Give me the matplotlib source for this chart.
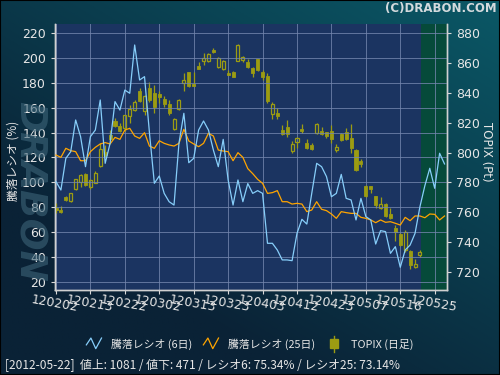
import numpy as np
import matplotlib
matplotlib.use('Agg')
import matplotlib.pyplot as plt
from matplotlib.lines import Line2D
from matplotlib.patches import Rectangle
from matplotlib.legend_handler import HandlerBase
from matplotlib.colors import to_rgb

# TOPIX daily candles, 2012-02-02 .. 2012-05-22
topix_open = [762.9, 761.4, 769.9, 767.6, 775.2, 780.4, 785.5, 777.0, 779.7, 790.9,
              800.5, 811.5, 821.1, 817.8, 816.2, 824.7, 828.5, 841.3, 828.1, 843.0,
              839.7, 839.2, 835.9, 832.5, 815.5, 829.0, 846.4, 853.8, 845.9, 858.0,
              861.6, 861.4, 868.8, 857.6, 855.8, 853.1, 854.2, 861.6, 862.1, 860.9,
              856.5, 862.5, 854.2, 851.3, 825.8, 826.7, 815.1, 817.3, 801.2, 807.2,
              815.7, 806.1, 805.0, 812.8, 814.4, 813.5, 814.4, 802.0, 812.4, 813.9,
              809.9, 801.6, 794.5, 777.7, 777.5, 770.8, 762.5, 765.4, 758.7, 749.1,
              745.3, 734.5, 734.1, 722.9, 731.0]
topix_close = [761.4, 760.3, 768.1, 772.6, 782.0, 784.9, 777.9, 781.5, 786.0, 802.3,
               798.3, 808.8, 817.8, 814.6, 825.1, 828.9, 834.1, 834.5, 837.9, 835.2,
               830.7, 837.0, 832.5, 826.7, 822.5, 835.6, 848.6, 844.8, 844.8, 856.2,
               863.2, 865.9, 867.2, 863.6, 861.6, 852.0, 850.9, 872.1, 864.3, 857.1,
               853.4, 855.4, 850.4, 834.8, 832.5, 824.5, 812.4, 812.4, 805.7, 809.5,
               814.4, 803.2, 802.3, 818.9, 812.4, 811.0, 808.8, 803.9, 808.4, 809.0,
               803.2, 788.2, 792.0, 770.8, 775.7, 764.7, 765.4, 757.4, 755.8, 746.8,
               737.9, 746.8, 724.5, 724.9, 733.0]
topix_high = [765.9, 764.3, 770.8, 773.0, 782.5, 785.5, 786.0, 782.5, 787.6, 806.1,
              805.0, 815.0, 822.9, 820.0, 825.5, 831.9, 835.2, 843.0, 838.6, 847.5,
              845.3, 841.2, 837.9, 835.2, 823.3, 836.0, 853.6, 854.2, 854.2, 861.0,
              866.5, 866.5, 869.9, 864.3, 862.0, 855.3, 854.5, 872.6, 864.7, 862.5,
              857.3, 863.0, 855.3, 853.1, 834.0, 829.6, 818.4, 821.8, 807.9, 810.6,
              819.1, 808.8, 806.6, 819.6, 816.9, 813.8, 818.4, 805.7, 812.8, 816.2,
              819.1, 802.1, 795.4, 778.2, 777.7, 771.0, 769.9, 765.9, 762.5, 751.3,
              745.7, 748.0, 734.5, 728.7, 734.5]
topix_low = [759.6, 759.1, 767.4, 767.0, 774.8, 777.0, 777.5, 775.8, 779.3, 790.5,
             797.0, 808.3, 816.9, 814.0, 814.6, 819.6, 828.0, 834.0, 825.1, 834.0,
             826.7, 833.0, 830.3, 825.1, 815.0, 828.5, 841.5, 844.1, 844.6, 856.0,
             858.7, 861.0, 866.5, 857.0, 855.3, 851.8, 850.4, 861.4, 861.0, 856.5,
             850.9, 854.9, 848.6, 833.0, 822.5, 822.5, 812.0, 810.6, 799.9, 803.2,
             813.3, 802.5, 801.6, 812.4, 811.7, 809.5, 806.6, 800.5, 807.9, 808.4,
             799.9, 787.7, 790.0, 770.3, 773.0, 762.9, 761.8, 756.9, 755.1, 740.8,
             737.2, 733.4, 721.6, 722.2, 730.1]

# advance/decline ratio (%)
ratio6 = [100.5, 93.8, 119.3, 124.7, 150.2, 136.8, 112.6, 136.8, 142.1, 166.3,
          115.3, 131.4, 165.0, 158.2, 174.3, 171.7, 210.6, 182.4, 185.1, 140.0,
          99.2, 105.1, 91.1, 84.4, 81.7, 131.4, 155.6, 115.8, 119.3, 142.1,
          149.4, 142.1, 126.0, 112.6, 134.6, 101.9, 81.7, 101.9, 84.4, 99.0,
          91.1, 93.3, 91.1, 50.9, 50.9, 45.5, 37.5, 37.5, 36.9, 58.9,
          70.2, 66.4, 91.1, 115.3, 112.6, 104.6, 88.4, 91.1, 106.4, 87.1,
          85.8, 69.7, 87.1, 72.4, 69.7, 50.3, 61.1, 60.3, 42.8, 48.2,
          31.6, 45.5, 49.5, 58.9, 80.4, 97.3, 111.3, 95.2, 123.4, 114.8]
ratio25 = [122.0, 120.1, 127.4, 125.5, 124.7, 117.4, 117.4, 124.7, 128.2, 130.9,
           132.0, 130.9, 136.2, 134.6, 142.1, 143.5, 137.3, 135.4, 140.0, 129.2,
           127.4, 133.5, 131.4, 130.1, 129.2, 131.4, 142.7, 133.3, 130.9, 128.7,
           131.4, 139.5, 137.3, 126.0, 125.2, 124.7, 117.4, 123.9, 120.1, 111.0,
           107.0, 102.4, 99.2, 91.1, 91.7, 93.3, 84.4, 84.4, 82.5, 83.1,
           82.5, 76.4, 77.7, 84.4, 78.3, 77.2, 74.5, 71.0, 76.4, 75.6,
           75.0, 75.0, 71.8, 71.0, 69.7, 67.5, 69.7, 67.8, 68.3, 67.0,
           65.6, 71.8, 69.1, 72.9, 72.9, 71.5, 74.5, 74.2, 69.7, 72.9]

tick_labels = ['120202', '120213', '120222', '120302', '120313', '120323',
               '120403', '120412', '120423', '120507', '120516', '120525']
tick_step = 7
latest_start = 74.2

date_str = '2012-05-22'
n_up, n_down = 1081, 471
last_r6, last_r25 = 75.34, 73.14

OLIVE = '#9c9c12'
BLUE = '#87cefa'
ORANGE = '#ffa500'
PLOT_BG = '#1b3461'
GREEN = '#064a3a'
TXT = '#e6e6e6'
JP = ['Noto Sans CJK JP', 'DejaVu Sans']

fig = plt.figure(figsize=(5, 3.75), dpi=100)

# background gradient
bg = fig.add_axes([0, 0, 1, 1], zorder=-10)
gy, gx = np.mgrid[0:1:200j, 0:1:260j]
t = np.clip(gx * 0.6 + (1 - gy) * 0.75 - 0.35, 0, 1)[..., None]
dark = np.array(to_rgb('#0a2236'))
teal = np.array(to_rgb('#0a5866'))
bg.imshow(dark + (teal - dark) * t, aspect='auto', extent=[0, 1, 0, 1])
bg.axis('off')

# watermark
fig.text(0.058, 0.49, 'DRABON', rotation=-90, fontsize=27, fontweight='bold',
         style='italic', color='#3d6579', alpha=0.6, ha='center', va='center')

ax = fig.add_axes([0.11, 0.2267, 0.784, 0.7093], zorder=1)
ax.set_facecolor(PLOT_BG)
ax2 = ax.twinx()

# candles
x = np.arange(len(topix_open))
o = np.array(topix_open)
c = np.array(topix_close)
top = np.maximum(o, c)
bot = np.minimum(o, c)
up = c > o
ax.vlines(x, top, topix_high, color=OLIVE, lw=0.9, zorder=3)
ax.vlines(x, topix_low, bot, color=OLIVE, lw=0.9, zorder=3)
ax.bar(x[~up], np.maximum(top - bot, 0.7)[~up], bottom=bot[~up], width=0.62,
       color=OLIVE, edgecolor=OLIVE, lw=0.6, zorder=4)
ax.bar(x[up], np.maximum(top - bot, 0.7)[up], bottom=bot[up], width=0.62,
       facecolor='none', edgecolor=OLIVE, lw=0.9, zorder=4)

ax.axvspan(latest_start, 79.5, color=GREEN, zorder=0.2, lw=0)
ax.set_xlim(-0.2, 79.5)
ax.set_ylim(707.7, 886.3)
ax.yaxis.tick_right()
ax.set_yticks(np.arange(720, 881, 20))

ticks = np.arange(len(tick_labels)) * tick_step
ax.set_xticks(ticks)
ax.set_xticklabels(tick_labels, rotation=-10, rotation_mode='anchor', ha='center',
                   va='top', fontsize=8.5, color=TXT)
ax.grid(axis='x', color='#7486ae', lw=0.7, alpha=0.8)
ax.set_axisbelow(True)

# ratio lines
xr = np.arange(len(ratio6))
ax2.plot(xr, ratio25, color=ORANGE, lw=0.9, zorder=5)
ax2.plot(xr, ratio6, color=BLUE, lw=0.9, zorder=6)
ax2.set_ylim(13.3, 227.5)
ax2.set_yticks(np.arange(20, 221, 20))
ax2.yaxis.tick_left()
ax2.grid(axis='y', color='#7486ae', lw=0.7, alpha=0.8)

for a in (ax, ax2):
    a.tick_params(colors='#d8d8d8', labelcolor=TXT, labelsize=9, length=3, width=0.8)
    for s in a.spines.values():
        s.set_color('#d0d0d0')
        s.set_linewidth(1)
    a.spines['top'].set_visible(False)
ax.tick_params(axis='x', pad=2)

# axis titles
fig.text(0.026, 0.57, '騰落レシオ (%)', rotation=90, color=TXT, fontsize=8.5,
         family=JP, ha='center', va='center')
fig.text(0.974, 0.595, 'TOPIX (Pt)', rotation=270, color=TXT, fontsize=8.5,
         ha='center', va='center')


class ZigzagHandler(HandlerBase):
    def create_artists(self, legend, orig_handle, xdescent, ydescent,
                       width, height, fontsize, trans):
        xs = np.array([0.0, 0.3, 0.62, 1.0]) * width - xdescent
        ys = np.array([0.35, 1.25, -0.15, 1.25]) * height - ydescent
        return [Line2D(xs, ys, color=orig_handle.get_color(), lw=0.9, transform=trans)]


class CandleHandler(HandlerBase):
    def create_artists(self, legend, orig_handle, xdescent, ydescent,
                       width, height, fontsize, trans):
        cx = width / 2 - xdescent
        wick = Line2D([cx, cx], [-0.55 * height - ydescent, 1.55 * height - ydescent],
                      color=OLIVE, lw=1, transform=trans)
        body = Rectangle((cx - 3, -0.1 * height - ydescent), 6, 1.2 * height,
                         facecolor=OLIVE, edgecolor=OLIVE, transform=trans)
        return [wick, body]


h6 = Line2D([], [], color=BLUE)
h25 = Line2D([], [], color=ORANGE)
hc = Line2D([], [], color=OLIVE)
leg = fig.legend([h6, h25, hc], ['騰落レシオ (6日)', '騰落レシオ (25日)', 'TOPIX (日足)'],
                 handler_map={h6: ZigzagHandler(), h25: ZigzagHandler(), hc: CandleHandler()},
                 loc='center', bbox_to_anchor=(0.5, 0.083), ncol=3, frameon=False,
                 prop={'family': JP, 'size': 7.8}, handlelength=1.4, handletextpad=0.9,
                 columnspacing=1.0)
for tx in leg.get_texts():
    tx.set_color(TXT)

footer = '[{}]  値上: {} / 値下: {} / レシオ6: {:.2f}% / レシオ25: {:.2f}%'.format(
    date_str, n_up, n_down, last_r6, last_r25)
fig.text(0.01, 0.024, footer, color=TXT, fontsize=8.6, family=JP, ha='left', va='center')
fig.text(0.993, 0.978, '(C)DRABON.COM', color='#d4dadd', fontsize=8.5, fontweight='bold',
         ha='right', va='center')

fig.add_artist(Rectangle((0, 0), 1, 1, transform=fig.transFigure, fill=False,
                         ec='black', lw=1.5))

fig.savefig('out.png', dpi=100)
